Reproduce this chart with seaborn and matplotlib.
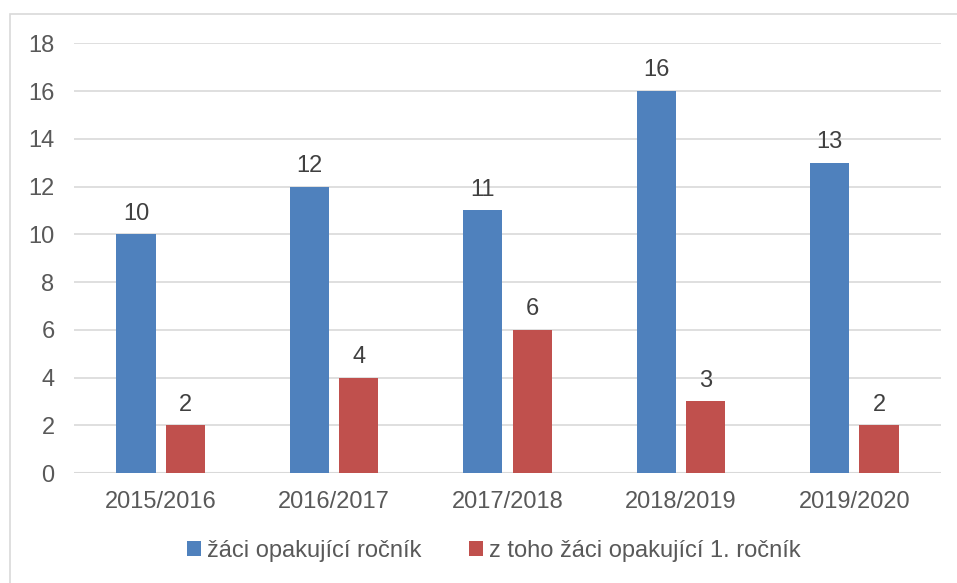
import pandas as pd
import seaborn as sns
import matplotlib.pyplot as plt
from matplotlib.patches import Rectangle, Patch

# Data
years = ["2015/2016", "2016/2017", "2017/2018", "2018/2019", "2019/2020"]
repeating = [10, 12, 11, 16, 13]
repeating_first = [2, 4, 6, 3, 2]
series_names = ["žáci opakující ročník", "z toho žáci opakující 1. ročník"]
colors = ["#4F81BD", "#C0504D"]

df = pd.DataFrame({
    "year": years * 2,
    "value": repeating + repeating_first,
    "series": [series_names[0]] * len(years) + [series_names[1]] * len(years),
})

sns.set_style("white")
plt.rcParams["font.family"] = ["Liberation Sans", "DejaVu Sans"]

fs = 17
fig = plt.figure(figsize=(9.57, 5.83), dpi=100)
ax = fig.add_axes([74 / 957, 1 - 473 / 583, 867 / 957, (473 - 43.3) / 583])

sns.barplot(data=df, x="year", y="value", hue="series", palette=colors,
            width=0.57, gap=0.21, ax=ax, legend=False, saturation=1,
            edgecolor="none")

for c in ax.containers:
    ax.bar_label(c, padding=7, fontsize=fs, color="#404040")

ax.set_ylim(0, 18)
ax.set_yticks(range(0, 19, 2))
ax.set_xlim(-0.5, len(years) - 0.5)
ax.yaxis.grid(True, color="#D9D9D9", linewidth=1.2)
ax.set_axisbelow(True)
for s in ax.spines.values():
    s.set_visible(False)
ax.axhline(0, color="#D9D9D9", linewidth=1.5, zorder=0)
ax.tick_params(axis="both", length=0, labelsize=fs, labelcolor="#595959")
ax.tick_params(axis="y", pad=14)
ax.tick_params(axis="x", pad=13)
ax.set_xlabel("")
ax.set_ylabel("")

# legend
handles = [Patch(facecolor=col, edgecolor="none") for col in colors]
fig.legend(handles, series_names, loc="center", bbox_to_anchor=(494 / 957, 1 - 551 / 583),
           ncol=2, frameon=False, fontsize=fs, handlelength=0.6, handleheight=0.6,
           handletextpad=0.25, columnspacing=2.0, labelcolor="#595959")

# outer chart frame
fig.patches.append(Rectangle((10 / 957, -0.1), 1.2, 1 - 14 / 583 + 0.1,
                             transform=fig.transFigure, fill=False,
                             edgecolor="#D9D9D9", linewidth=1.2))

fig.savefig("out.png", dpi=100)
plt.close()
